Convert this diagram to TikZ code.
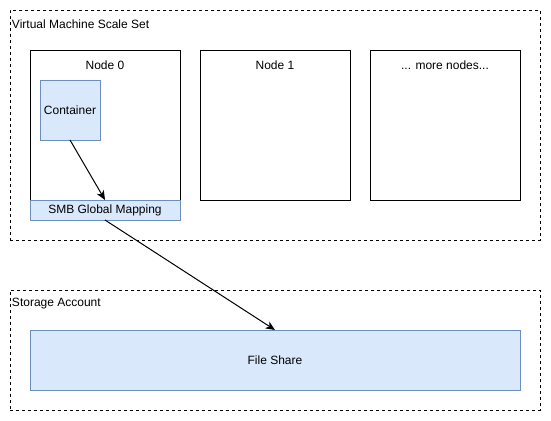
\documentclass[tikz,border=0pt]{standalone}
\usepackage{fontspec}
\setmainfont{Liberation Sans}
\usetikzlibrary{arrows.meta}
\definecolor{bfill}{HTML}{DAE8FC}
\definecolor{bline}{HTML}{6C8EBF}
\begin{document}
\begin{tikzpicture}[x=0.75pt,y=-0.75pt,
  every node/.style={inner sep=0pt,outer sep=0pt,font=\fontsize{9pt}{11pt}\selectfont},
  group/.style={draw,dashed,dash pattern=on 2.25pt off 2.25pt,line width=0.75pt,anchor=north west},
  vmbox/.style={draw,line width=0.75pt,anchor=north west},
  bluebox/.style={draw=bline,fill=bfill,line width=0.75pt,anchor=north west},
  arr/.style={line width=0.75pt,-{Stealth[length=7pt,width=6pt,inset=2pt]}}]
\useasboundingbox (0,0) rectangle (551,421);
% groups
\node[group,minimum width=530*0.75pt,minimum height=230*0.75pt] (vmss) at (10,10) {};
\node[anchor=west] (vmsslbl) at (12,24) {Virtual Machine Scale Set};
\node[group,minimum width=530*0.75pt,minimum height=120*0.75pt] (sa) at (10,290) {};
\node[anchor=west] (salbl) at (12,304) {Storage Account};
% VM nodes
\node[vmbox,minimum width=150*0.75pt,minimum height=150*0.75pt] (n0) at (30,50) {};
\node (n0lbl) at (105,65) {Node 0};
\node[vmbox,minimum width=150*0.75pt,minimum height=150*0.75pt] (n1) at (200,50) {};
\node (n1lbl) at (275,65) {Node 1};
\node[vmbox,minimum width=150*0.75pt,minimum height=150*0.75pt] (n2) at (370,50) {};
\node (n2lbl) at (445,65) {... more nodes...};
% blue boxes
\node[bluebox,minimum width=60*0.75pt,minimum height=60*0.75pt] (cont) at (40,80) {};
\node (contlbl) at (70,110) {Container};
\node[bluebox,minimum width=150*0.75pt,minimum height=20*0.75pt] (smb) at (30,200) {};
\node (smblbl) at (105,210) {SMB Global Mapping};
\node[bluebox,minimum width=490*0.75pt,minimum height=60*0.75pt] (fs) at (30,330) {};
\node (fslbl) at (275,360) {File Share};
% connectors
\coordinate (c1) at (70,140);
\coordinate (c2) at (105,200);
\coordinate (c3) at (105,220);
\coordinate (c4) at (275,330);
\draw[arr] (c1) -- (c2);
\draw[arr] (c3) -- (c4);
\end{tikzpicture}
\end{document}
